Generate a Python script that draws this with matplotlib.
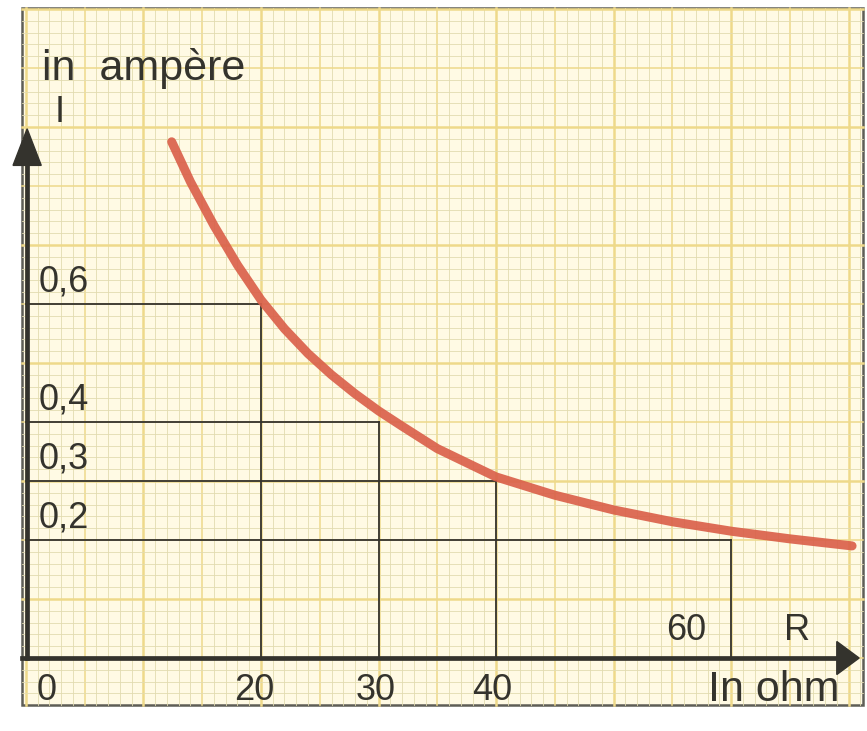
import matplotlib.pyplot as plt
from matplotlib.patches import Rectangle, Polygon
import numpy as np

# curve (resistance in ohm, current in ampere)
r_curve = [12.4, 14, 16, 18, 20, 22, 24, 26, 28, 30, 32, 35, 40, 45, 50,
           55, 60, 65, 70.3]
i_curve = [0.875, 0.807, 0.733, 0.666, 0.607, 0.558, 0.516, 0.480, 0.448,
           0.419, 0.393, 0.355, 0.307, 0.276, 0.251, 0.231, 0.215, 0.202,
           0.19]

# guide lines
r_marks = [20, 30, 40, 60]
i_marks = [0.6, 0.4, 0.3, 0.2]

y_labels = ["0,6", "0,4", "0,3", "0,2"]
x_labels = ["0", "20", "30", "40"]
x_label_pos = [1.8, 19.4, 29.8, 39.7]

paper = "#fffae4"
fine = "#e2dbb0"
major = "#eed98a"
ink = "#34332d"
red = "#da614b"


def main():
    fig = plt.figure(figsize=(8.67, 7.31), dpi=100)
    ax = fig.add_axes([0, 0, 1, 1])
    ax.set_xlim(-2.21, 71.57)
    ax.set_ylim(-0.1237, 1.1153)
    ax.axis("off")

    # paper sheet
    x0, x1 = -0.34, 71.2
    y0, y1 = -0.08, 1.102
    ax.add_patch(Rectangle((x0, y0), x1 - x0, y1 - y0, facecolor=paper,
                           edgecolor="#5e5e56", lw=1.8, zorder=0))

    # graph paper grid
    for gx in np.arange(0, 71.2, 1.0):
        n = int(round(gx))
        if n % 10 == 0:
            c, w = major, 1.8
        elif n % 5 == 0:
            c, w = major, 1.1
        else:
            c, w = fine, 0.6
        ax.plot([gx, gx], [y0, y1], color=c, lw=w, zorder=1)
    for gy in np.arange(-0.06, 1.102, 0.02):
        n = int(round((gy + 0.1) / 0.02))
        if n % 10 == 0:
            c, w = major, 1.8
        elif n % 5 == 0:
            c, w = major, 1.1
        else:
            c, w = fine, 0.6
        ax.plot([x0, x1], [gy, gy], color=c, lw=w, zorder=1)

    # axes with arrows
    ax.plot([0.1, 0.1], [0, 0.86], color=ink, lw=3.4, zorder=4)
    ax.add_patch(Polygon([[-1.1, 0.835], [1.3, 0.835], [0.1, 0.897]],
                         closed=True, color=ink, zorder=4))
    ax.plot([x0, 69.5], [0, 0], color=ink, lw=3.4, zorder=4)
    ax.add_patch(Polygon([[69.0, 0.028], [69.0, -0.028], [70.9, 0]],
                         closed=True, color=ink, zorder=4))

    # guide lines from the axes to the curve
    for r, i in zip(r_marks, i_marks):
        ax.plot([0, r], [i, i], color=ink, lw=1.3, zorder=3)
        ax.plot([r, r], [0, i], color=ink, lw=1.3, zorder=3)

    # the curve
    ax.plot(r_curve, i_curve, color=red, lw=6.5, solid_capstyle="round",
            solid_joinstyle="round", alpha=0.92, zorder=5)

    font = "Liberation Sans"
    for lab, i in zip(y_labels, i_marks):
        ax.text(1.1, i + 0.037, lab, fontsize=26, family=font, color=ink,
                ha="left", va="center", zorder=6)
    for lab, r in zip(x_labels, x_label_pos):
        ax.text(r, -0.055, lab, fontsize=26, family=font, color=ink,
                ha="center", va="center", zorder=6)
    ax.text(56.2, 0.047, "60", fontsize=26, family=font, color=ink,
            ha="center", va="center", zorder=6)
    ax.text(65.6, 0.047, "R", fontsize=26, family=font, color=ink,
            ha="center", va="center", zorder=6)
    ax.text(63.6, -0.055, "In ohm", fontsize=31, family=font, color=ink,
            ha="center", va="center", zorder=6)
    ax.text(1.4, 1.0, "in  ampère", fontsize=31, family=font, color=ink,
            ha="left", va="center", zorder=6)
    ax.text(2.9, 0.925, "I", fontsize=26, family=font, color=ink,
            ha="center", va="center", zorder=6)

    fig.savefig("out.png", dpi=100, facecolor="white")


if __name__ == "__main__":
    main()
